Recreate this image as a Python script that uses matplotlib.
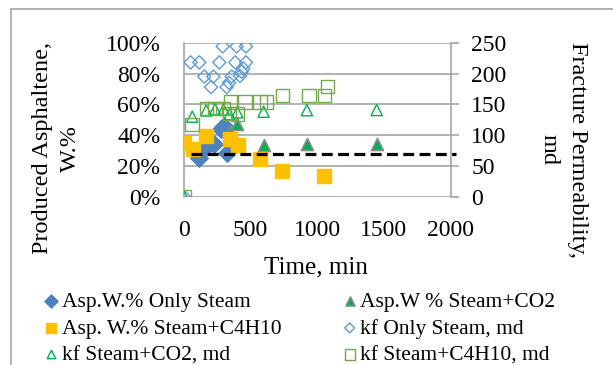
import matplotlib.pyplot as plt
from matplotlib.patches import Rectangle
from matplotlib.ticker import PercentFormatter

plt.rcParams['font.family'] = ['Liberation Serif', 'DejaVu Serif']

# produced asphaltene, weight fraction (%) vs time (min)
asp_steam_t = [115, 165, 200, 225, 275, 300, 325]
asp_steam = [25, 32, 35.5, 34, 44, 46, 28.5]
asp_co2_t = [345, 400, 597, 921, 1446]
asp_co2 = [42, 47, 33.5, 34, 34.3]
asp_c4_t = [0, 65, 168, 345, 403, 570, 738, 1052]
asp_c4 = [35, 31, 39.5, 37.5, 33.3, 24.5, 16.7, 13.6]

# fracture permeability, md
kf_steam_t = [0, 50, 115, 152, 203, 220, 265, 290, 320, 338, 358, 385, 395,
              420, 433, 445, 465, 465]
kf_steam = [0, 218, 218, 195, 178, 195, 218, 244, 178, 185, 195, 218, 244,
            196, 203, 208, 218, 244]
kf_co2_t = [0, 62, 167, 233, 297, 341, 400, 597, 922, 1446]
kf_co2 = [0, 130, 140, 142, 141.5, 134, 137, 138, 140.5, 140.7]
kf_c4_t = [0, 62, 168, 233, 292, 340, 350, 403, 458, 570, 620, 738, 938,
           1053, 1078]
kf_c4 = [0, 117.5, 143, 143, 143, 135, 154, 134, 154, 154, 154, 164, 164,
         164, 178.6]

threshold_t = [50, 2040]
threshold_md = [70, 70]

fig = plt.figure(figsize=(6.13, 3.65), dpi=100)
fig.patches.append(Rectangle((11 / 613, -0.1), 1.2, 1.1 - 9 / 365,
                             transform=fig.transFigure, fill=False,
                             edgecolor='#a6a6a6', linewidth=1.2))

ax = fig.add_axes([184 / 613, 1 - 196.7 / 365, 266.5 / 613, 154 / 365])
ax2 = ax.twinx()

h1 = ax.scatter(asp_steam_t, asp_steam, marker='D', s=80, color='#4F81BD',
                edgecolor='#4F81BD', zorder=3, label='Asp.W.% Only Steam')
h2 = ax.scatter(asp_co2_t, asp_co2, marker='^', s=75, color='#00B050',
                edgecolor='#8c8c8c', linewidth=1.2, zorder=3,
                label='Asp.W % Steam+CO2')
h3 = ax.scatter(asp_c4_t, asp_c4, marker='s', s=100, color='#FFC000',
                edgecolor='#FFC000', zorder=3, label='Asp. W.% Steam+C4H10')

h4 = ax2.scatter(kf_steam_t, kf_steam, marker='D', s=45, facecolor='none',
                 edgecolor='#5B9BD5', linewidth=1.0,
                 label='kf Only Steam, md')
h5 = ax2.scatter(kf_co2_t, kf_co2, marker='^', s=65, facecolor='none',
                 edgecolor='#00B050', linewidth=1.0,
                 label='kf Steam+CO2, md')
h6 = ax2.scatter(kf_c4_t, kf_c4, marker='s', s=95, facecolor='none',
                 edgecolor='#70AD47', linewidth=1.0,
                 label='kf Steam+C4H10, md')
ax2.plot(threshold_t, threshold_md, color='black', linewidth=2.3,
         dashes=(3.4, 1.7), clip_on=False, zorder=4)

ax.set_xlim(0, 2000)
ax.set_ylim(0, 100)
ax2.set_ylim(0, 250)
ax.set_xticks([0, 500, 1000, 1500, 2000])
ax.set_yticks(range(0, 101, 20))
ax2.set_yticks(range(0, 251, 50))
ax.yaxis.set_major_formatter(PercentFormatter(decimals=0))

ax.grid(axis='y', color='#a6a6a6', linewidth=1.2)
ax.set_axisbelow(True)
for a in (ax, ax2):
    for side in ('top', 'bottom', 'left', 'right'):
        a.spines[side].set_visible(False)
ax.spines['left'].set_visible(True)
ax.spines['left'].set_color('#a6a6a6')
ax.spines['left'].set_linewidth(1.2)
ax2.spines['right'].set_visible(True)
ax2.spines['right'].set_color('#a6a6a6')
ax2.spines['right'].set_linewidth(1.2)

ax.tick_params(axis='x', length=0, pad=17, labelsize=17)
ax.tick_params(axis='y', length=0, pad=17, labelsize=17)
ax2.tick_params(axis='y', length=6, width=1.2, color='#a6a6a6', pad=9,
                labelsize=17)

fig.text(316 / 613, 1 - 267 / 365, 'Time, min', ha='center', va='center',
         fontsize=18)
fig.text(56.5 / 613, 1 - 148 / 365, 'Produced Asphaltene,\nW.%', rotation=90,
         ha='center', va='center', fontsize=17.5, linespacing=1.45)
fig.text(563 / 613, 1 - 150 / 365, 'Fracture Permeability,\nmd',
         rotation=270, ha='center', va='center', fontsize=17.5,
         linespacing=1.45)

fig.legend([h1, h3, h5, h2, h4, h6],
           [h.get_label() for h in (h1, h3, h5, h2, h4, h6)],
           ncol=2, loc='upper left', bbox_to_anchor=(45 / 613, 1 - 292 / 365),
           frameon=False, fontsize=15.5, markerscale=0.75, handlelength=0.6,
           handletextpad=0.2, columnspacing=2.85, labelspacing=0.3,
           borderaxespad=0, borderpad=0)

fig.savefig('out.png', dpi=100)
